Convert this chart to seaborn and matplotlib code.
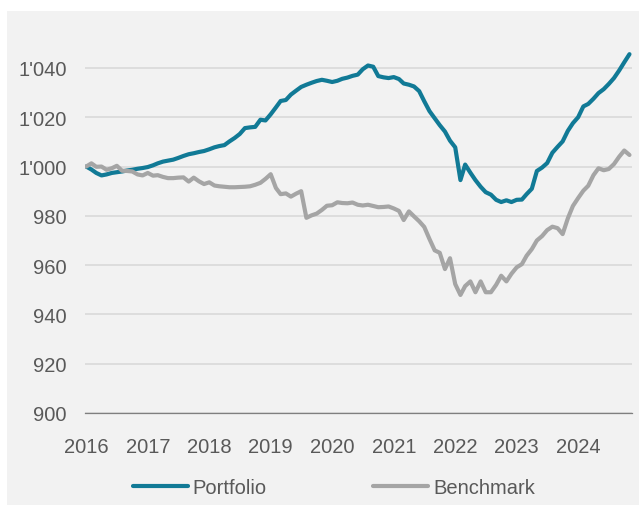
import pandas as pd
import numpy as np
import matplotlib
matplotlib.use("Agg")
import matplotlib.pyplot as plt
import matplotlib.patches as mpatches
import matplotlib.ticker as mticker
import seaborn as sns

# monthly index values, Jan 2016 - Nov 2024
dates = pd.date_range("2016-01-01", "2024-11-01", freq="MS")

portfolio = [
    1000.0, 998.8, 997.4, 996.4, 996.8, 997.4, 997.7, 998.0, 998.4, 998.7, 999.1, 999.4,
    999.8, 1000.5, 1001.3, 1002.0, 1002.4, 1002.8, 1003.5, 1004.3, 1005.0, 1005.4, 1005.9, 1006.3,
    1007.0, 1007.8, 1008.3, 1008.7, 1010.2, 1011.6, 1013.2, 1015.6, 1015.9, 1016.1, 1019.0, 1018.7,
    1021.2, 1024.0, 1026.6, 1027.0, 1029.2, 1030.8, 1032.3, 1033.2, 1034.0, 1034.7, 1035.2, 1034.8,
    1034.3, 1034.8, 1035.6, 1036.1, 1036.8, 1037.3, 1039.5, 1041.0, 1040.5, 1036.7, 1036.2, 1035.9,
    1036.3, 1035.5, 1033.7, 1033.2, 1032.5, 1030.6, 1026.5, 1022.5, 1019.6, 1016.8, 1014.2, 1010.5,
    1007.8, 994.5, 1000.8, 997.5, 994.5, 991.8, 989.6, 988.6, 986.5, 985.6, 986.3, 985.6,
    986.5, 986.6, 988.8, 991.0, 998.2, 999.6, 1001.4, 1005.6, 1008.0, 1010.2, 1014.5, 1017.6,
    1020.0, 1024.4, 1025.4, 1027.5, 1029.8, 1031.4, 1033.5, 1035.9, 1039.0, 1042.3, 1045.6,
]

benchmark = [
    1000.0, 1001.3, 999.9, 1000.0, 998.7, 999.3, 1000.3, 998.3, 998.2, 998.0, 996.8, 996.4,
    997.4, 996.3, 996.5, 995.8, 995.3, 995.3, 995.5, 995.6, 993.9, 995.5, 994.0, 992.9,
    993.6, 992.3, 992.0, 991.8, 991.6, 991.6, 991.7, 991.8, 992.0, 992.6, 993.4, 995.0,
    996.9, 991.3, 988.8, 989.1, 987.8, 989.0, 990.0, 979.2, 980.2, 980.9, 982.4, 984.1,
    984.3, 985.5, 985.2, 985.1, 985.4, 984.5, 984.2, 984.5, 984.0, 983.5, 983.6, 983.8,
    983.0, 982.0, 978.3, 981.8, 979.8, 977.8, 975.5, 970.6, 966.0, 965.0, 958.4, 962.8,
    952.3, 947.9, 951.5, 953.4, 949.0, 953.4, 949.0, 949.0, 952.0, 955.7, 953.4, 956.5,
    959.1, 960.4, 963.8, 966.5, 970.0, 971.8, 974.2, 975.6, 975.0, 972.6, 979.0, 984.0,
    987.2, 990.2, 992.2, 996.5, 999.3, 998.5, 999.0, 1001.0, 1004.0, 1006.5, 1004.7,
]

years = list(range(2016, 2025))
y_ticks = [900, 920, 940, 960, 980, 1000, 1020, 1040]

df = pd.DataFrame({"date": dates, "Portfolio": portfolio, "Benchmark": benchmark})
long_df = df.melt(id_vars="date", var_name="series", value_name="value")

sns.set_style("white")
plt.rcParams["font.family"] = ["Liberation Sans", "DejaVu Sans"]

bg = "#f2f2f2"
text_col = "#595959"

fig = plt.figure(figsize=(6.39, 5.06), dpi=100)
fig.patch.set_facecolor("white")
fig.patches.append(mpatches.Rectangle((7 / 639, 0), 1, (506 - 12) / 506,
                                      transform=fig.transFigure, facecolor=bg,
                                      edgecolor="none", zorder=-10))
ax = fig.add_axes([85 / 639, (506 - 414) / 506, (632 - 85) / 639, (414 - 32) / 506])
ax.set_facecolor(bg)

sns.lineplot(data=long_df, x="date", y="value", hue="series",
             hue_order=["Portfolio", "Benchmark"],
             palette={"Portfolio": "#117a96", "Benchmark": "#a5a5a5"},
             linewidth=3.0, ax=ax, legend=True)

ax.set_ylim(900, 1055)
ax.set_yticks(y_ticks)
ax.yaxis.set_major_formatter(mticker.FuncFormatter(
    lambda v, p: f"{int(v):,}".replace(",", "'")))
ax.set_xlim(pd.Timestamp("2015-12-25"), pd.Timestamp("2024-11-16"))
ax.set_xticks([pd.Timestamp(f"{y}-01-01") for y in years])
ax.set_xticklabels([str(y) for y in years])

ax.grid(axis="y", color="#d9d9d9", linewidth=1.2)
ax.grid(axis="x", visible=False)
for s in ["top", "right", "left"]:
    ax.spines[s].set_visible(False)
ax.spines["bottom"].set_color("#7f7f7f")
ax.spines["bottom"].set_linewidth(0.9)
ax.tick_params(axis="both", length=0, labelsize=14.5, colors=text_col)
ax.tick_params(axis="y", pad=13)
ax.tick_params(axis="x", pad=17)
ax.set_xlabel("")
ax.set_ylabel("")

handles, labels = ax.get_legend_handles_labels()
ax.get_legend().remove()
for h in handles:
    h.set_linewidth(3)
leg = fig.legend(handles, labels, loc="center", ncol=2,
                 bbox_to_anchor=(334 / 639, 17 / 506), frameon=False,
                 fontsize=14.5, handlelength=2.7, handletextpad=0.25,
                 columnspacing=5.3)
for t in leg.get_texts():
    t.set_color(text_col)

fig.savefig("out.png", dpi=100, facecolor=fig.get_facecolor())
